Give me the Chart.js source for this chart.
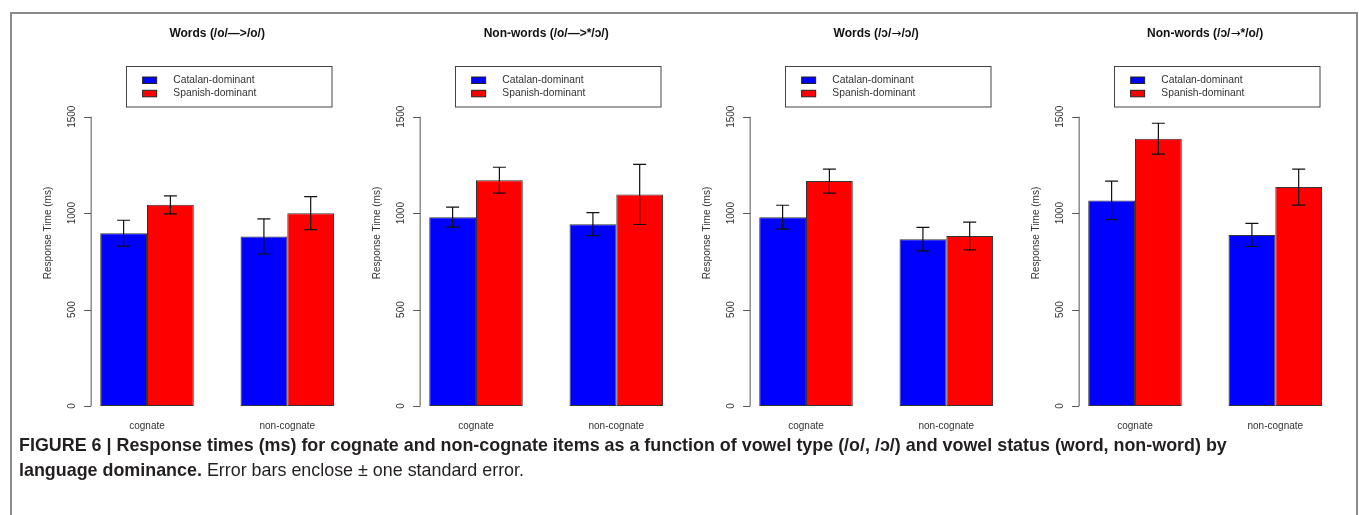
<!DOCTYPE html>
<html>
<head>
<meta charset="utf-8">
<script src="https://cdn.jsdelivr.net/npm/chart.js@4/dist/chart.umd.min.js"></script>
<style>
  html, body { margin:0; padding:0; background:#fff; }
  body { width:1359px; height:515px; position:relative; overflow:hidden; font-family:"Liberation Sans", Arial, sans-serif; }
  #frame { position:absolute; left:10px; top:12px; width:1348px; height:520px; border:2px solid #8a8a8a; border-bottom:none; box-sizing:border-box; }
  .panel { position:absolute; top:0; }
  #caption { position:absolute; left:19px; top:433px; font-size:17.9px; line-height:25px; color:#231f20; white-space:nowrap; }
  #caption b { font-weight:bold; }
</style>
</head>
<body>
<div id="frame"></div>
<div id="charts"></div>
<div id="caption"><b>FIGURE 6 | Response times (ms) for cognate and non-cognate items as a function of vowel type (/o/, /ɔ/) and vowel status (word, non-word) by</b><br><b>language dominance.</b> Error bars enclose ± one standard error.</div>
<script>
// ---- data ----
const panelTitles = ['Words (/o/—>/o/)', 'Non-words (/o/—>*/ɔ/)', 'Words (/ɔ/→/ɔ/)', 'Non-words (/ɔ/→*/o/)'];
const categories = ['cognate', 'non-cognate'];
const seriesNames = ['Catalan-dominant', 'Spanish-dominant'];
const yTicks = [0, 500, 1000, 1500];
const yAxisTitle = 'Response Time (ms)';

const catalanMeans = [[896, 879], [979, 943], [979, 865], [1066, 887]];
const spanishMeans = [[1043, 1000], [1171, 1097], [1166, 881], [1386, 1135]];
const catalanSE = [[67, 91], [52, 60], [62, 61], [100, 60]];
const spanishSE = [[47, 86], [67, 156], [62, 72], [80, 93]];

const seriesColors = ['#0000ff', '#ff0000'];

// ---- drawing ----
const FONT = '"Liberation Sans", Arial, "DejaVu Sans", sans-serif';
const ARROW_FONT = '"DejaVu Sans", sans-serif';
const panelPitch = 329.3;
const panelStart = 10;
const canvasW = 360, canvasH = 440;

function drawMixedTitle(ctx, text, cx, cy) {
  // draw with the arrow glyph in a font where it is a full-size, thin arrow
  const parts = text.split(/(→)/).filter(s => s.length);
  const fontFor = s => s === '→' ? '12px ' + ARROW_FONT : 'bold 12px ' + FONT;
  let total = 0;
  const widths = parts.map(s => { ctx.font = fontFor(s); const w = ctx.measureText(s).width; total += w; return w; });
  let x = cx - total / 2;
  ctx.textAlign = 'left';
  parts.forEach((s, i) => { ctx.font = fontFor(s); ctx.fillText(s, x, cy); x += widths[i]; });
}

const rPlot = {
  id: 'rPlot',
  afterDatasetsDraw(chart, args, opts) {
    const ctx = chart.ctx;
    const ca = chart.chartArea;
    const xs = chart.scales.x, ys = chart.scales.y;
    const seList = opts.se;
    ctx.save();
    // error bars
    ctx.strokeStyle = '#111';
    ctx.lineWidth = 1.2;
    chart.data.datasets.forEach((ds, di) => {
      const meta = chart.getDatasetMeta(di);
      meta.data.forEach((bar, i) => {
        const m = ds.data[i], s = seList[di][i];
        const yt = ys.getPixelForValue(m + s), yb = ys.getPixelForValue(m - s);
        const x = bar.x, hw = 6.5;
        ctx.beginPath();
        ctx.moveTo(x, yt); ctx.lineTo(x, yb);
        ctx.moveTo(x - hw, yt); ctx.lineTo(x + hw, yt);
        ctx.moveTo(x - hw, yb); ctx.lineTo(x + hw, yb);
        ctx.stroke();
      });
    });
    // y axis (R style)
    const axisX = ca.left + 13.8;
    ctx.strokeStyle = '#555';
    ctx.lineWidth = 1;
    ctx.beginPath();
    ctx.moveTo(axisX + 0.5, ys.getPixelForValue(yTicks[0]));
    ctx.lineTo(axisX + 0.5, ys.getPixelForValue(yTicks[yTicks.length - 1]));
    yTicks.forEach(t => {
      const y = Math.round(ys.getPixelForValue(t)) + 0.5;
      ctx.moveTo(axisX + 0.5, y); ctx.lineTo(axisX - 6.5, y);
    });
    ctx.stroke();
    ctx.fillStyle = '#333';
    ctx.font = '10px ' + FONT;
    ctx.textAlign = 'center';
    ctx.textBaseline = 'middle';
    yTicks.forEach(t => {
      const y = ys.getPixelForValue(t);
      ctx.save();
      ctx.translate(axisX - 18.5, y);
      ctx.rotate(-Math.PI / 2);
      ctx.fillText(String(t), 0, 0);
      ctx.restore();
    });
    // y axis title
    ctx.save();
    ctx.translate(axisX - 42.5, 233);
    ctx.rotate(-Math.PI / 2);
    ctx.fillText(yAxisTitle, 0, 0);
    ctx.restore();
    // x labels
    chart.data.labels.forEach((lab, i) => {
      ctx.fillText(lab, xs.getPixelForValue(i), 426);
    });
    // title
    ctx.fillStyle = '#111';
    drawMixedTitle(ctx, opts.title, (ca.left + ca.right) / 2, 33.5);
    // legend box
    const lx = ca.left + 49.5, lw = 205.5, ly = 66, lh = 40.5;
    ctx.strokeStyle = '#444';
    ctx.lineWidth = 1;
    ctx.strokeRect(Math.round(lx) + 0.5, ly + 0.5, lw, lh);
    ctx.font = '10.3px ' + FONT;
    ctx.textAlign = 'left';
    chart.data.datasets.forEach((ds, di) => {
      const cy = 80 + di * 13.3;
      ctx.fillStyle = ds.backgroundColor;
      ctx.fillRect(lx + 16.3, cy - 3, 14, 6.5);
      ctx.strokeStyle = '#222';
      ctx.strokeRect(lx + 16.3, cy - 3, 14, 6.5);
      ctx.fillStyle = '#333';
      ctx.fillText(ds.label, lx + 47, cy);
    });
    ctx.restore();
  }
};

panelTitles.forEach((title, p) => {
  const div = document.createElement('div');
  div.className = 'panel';
  div.style.left = (panelStart + p * panelPitch) + 'px';
  div.style.width = canvasW + 'px';
  div.style.height = canvasH + 'px';
  const cv = document.createElement('canvas');
  cv.width = canvasW; cv.height = canvasH;
  div.appendChild(cv);
  document.getElementById('charts').appendChild(div);

  new Chart(cv, {
    type: 'bar',
    data: {
      labels: categories,
      datasets: [
        { label: seriesNames[0], data: catalanMeans[p], backgroundColor: seriesColors[0] },
        { label: seriesNames[1], data: spanishMeans[p], backgroundColor: seriesColors[1] }
      ]
    },
    options: {
      responsive: false,
      animation: false,
      devicePixelRatio: 1,
      layout: { padding: { left: 66.85, right: canvasW - 66.85 - 280.6, top: 116.7, bottom: canvasH - 406 } },
      datasets: { bar: { categoryPercentage: 2 / 3, barPercentage: 1, borderWidth: 1, borderColor: '#333', borderSkipped: false } },
      scales: {
        x: { display: false, offset: true },
        y: { display: false, min: 0, max: 1500 }
      },
      plugins: {
        legend: { display: false },
        tooltip: { enabled: false },
        title: { display: false },
        rPlot: { title: title, se: [catalanSE[p], spanishSE[p]] }
      }
    },
    plugins: [rPlot]
  });
});
</script>
</body>
</html>
